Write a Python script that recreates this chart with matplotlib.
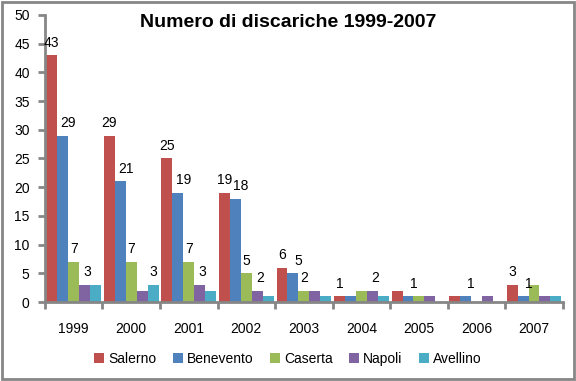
import matplotlib.pyplot as plt
import numpy as np
from matplotlib.patches import Rectangle

plt.rcParams['font.family'] = ['Liberation Sans', 'DejaVu Sans']

anni = ['1999', '2000', '2001', '2002', '2003', '2004', '2005', '2006', '2007']
province = ['Salerno', 'Benevento', 'Caserta', 'Napoli', 'Avellino']
salerno = [43, 29, 25, 19, 6, 1, 2, 1, 3]
benevento = [29, 21, 19, 18, 5, 1, 1, 1, 1]
caserta = [7, 7, 7, 5, 2, 2, 1, 0, 3]
napoli = [3, 2, 3, 2, 2, 2, 1, 1, 1]
avellino = [3, 3, 2, 1, 1, 1, 0, 0, 1]
colori = ['#C0504D', '#4F81BD', '#9BBB59', '#8064A2', '#4BACC6']

# etichette mostrate nel grafico originale (None = nessuna etichetta)
etichette = [
    [43, 29, 25, 19, 6, 1, None, None, 3],
    [29, 21, 19, 18, 5, None, 1, 1, 1],
    [7, 7, 7, 5, 2, None, None, None, None],
    [3, None, 3, 2, None, 2, None, None, None],
    [None, 3, None, None, None, None, None, None, None],
]
spost = [0, 4, 0, 2, 0]  # spostamento orizzontale etichette (punti)

serie = [salerno, benevento, caserta, napoli, avellino]

fig = plt.figure(figsize=(5.76, 3.81), dpi=100)
ax = fig.add_axes([0.078, 0.207, 0.899, 0.754])

x = np.arange(len(anni))
w = 0.19
for i, (val, col) in enumerate(zip(serie, colori)):
    pos = x + (i - 2) * w
    ax.bar(pos, val, w, color=col, label=province[i], zorder=2)
    for p, v, lab in zip(pos, val, etichette[i]):
        if lab is not None:
            ax.annotate(str(lab), (p, v), xytext=(spost[i], 4),
                        textcoords='offset points', ha='center', va='bottom',
                        fontsize=10)

ax.set_xlim(-0.5, len(anni) - 0.5)
ax.set_ylim(0, 50)
ax.set_yticks(range(0, 51, 5))
ax.set_xticks(x)
ax.set_xticklabels(anni)
ax.set_xticks(np.arange(-0.5, len(anni), 1), minor=True)
ax.tick_params(axis='x', which='major', length=0, pad=14, labelsize=10)
ax.tick_params(axis='x', which='minor', length=5, width=2, color='#868686')
ax.tick_params(axis='y', length=5, width=2, color='#868686', labelsize=10, pad=6)
for s in ['top', 'right']:
    ax.spines[s].set_visible(False)
for s in ['left', 'bottom']:
    ax.spines[s].set_color('#868686')
    ax.spines[s].set_linewidth(2)

fig.text(0.5, 0.94, 'Numero di discariche 1999-2007', ha='center', va='center',
         fontsize=14, fontweight='bold')

fig.legend(loc='center', bbox_to_anchor=(0.5, 0.058), ncol=5, frameon=False,
           fontsize=10, handlelength=0.7, handleheight=0.7, handletextpad=0.3,
           columnspacing=1.2)

fig.patches.append(Rectangle((0.003, 0.004), 0.993, 0.99, transform=fig.transFigure,
                             fill=False, edgecolor='#868686', linewidth=2))

fig.savefig('out.png', dpi=100)
